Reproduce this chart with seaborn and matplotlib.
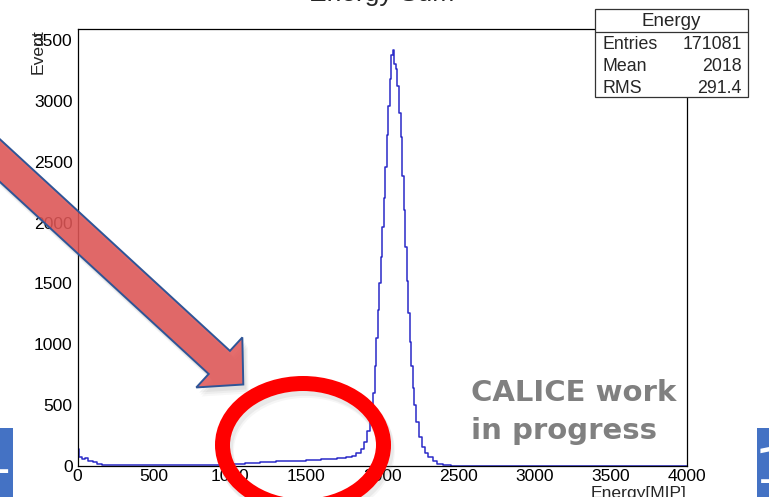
import numpy as np
import pandas as pd
import matplotlib
matplotlib.use("Agg")
import matplotlib.pyplot as plt
import seaborn as sns
from matplotlib.patches import Polygon, Ellipse, Rectangle
from matplotlib.transforms import Affine2D

# Energy-sum histogram: bin edges [MIP] and event counts per bin
bin_edges = [0, 10, 30, 50, 70, 100, 130, 160, 200, 300, 500, 700, 900, 1000,
             1100, 1200, 1300, 1400, 1500, 1600, 1700, 1760, 1800, 1830, 1860,
             1880, 1900, 1920, 1940, 1950, 1960, 1970, 1980, 1990, 2000, 2010,
             2020, 2030, 2040, 2050, 2060, 2070, 2080, 2090, 2100, 2110, 2120,
             2130, 2140, 2150, 2160, 2170, 2180, 2190, 2200, 2210, 2220, 2240,
             2260, 2280, 2300, 2330, 2360, 2400, 2450, 2550, 4000]
bin_counts = [140, 70, 60, 65, 45, 30, 15, 10, 6, 5, 6, 8, 12,
              20, 25, 32, 38, 45, 52, 60, 68, 75, 85, 110, 140, 200, 290, 430,
              600, 820, 1050, 1280, 1500, 1720, 1960, 2200, 2460, 2720, 2960,
              3180, 3380, 3420, 3300, 3260, 3120, 2900, 2700, 2380, 2100, 1800,
              1520, 1260, 1020, 820, 640, 500,
              360, 240, 160, 110, 70, 40, 20, 8, 2, 0]

hist_name = "Energy"
stat_names = ["Entries", "Mean", "RMS"]
stat_values = ["171081", "2018", "291.4"]
x_ticks = [0, 500, 1000, 1500, 2000, 2500, 3000, 3500, 4000]
y_ticks = [0, 500, 1000, 1500, 2000, 2500, 3000, 3500]

W, H = 769, 497
sns.set_theme(style="white")
plt.rcParams["font.family"] = ["Liberation Sans", "DejaVu Sans"]

fig = plt.figure(figsize=(W / 100, H / 100), dpi=100)
fig.patch.set_facecolor("white")
# pixel coordinates, origin at top-left
px = Affine2D().scale(1 / W, -1 / H).translate(0, 1) + fig.transFigure

ax = fig.add_axes([77.5 / W, 1 - 466 / H, (687 - 77.5) / W, (466 - 28.5) / H])
ax.set_facecolor("white")

centers = [(a + b) / 2 for a, b in zip(bin_edges[:-1], bin_edges[1:])]
df = pd.DataFrame({"energy": centers, "events": bin_counts})
sns.histplot(data=df, x="energy", weights="events", bins=bin_edges,
             element="step", fill=False, color="#2a2ac8", linewidth=1.1, ax=ax)

ax.set_xlim(0, 4000)
ax.set_ylim(0, 3595)
ax.set_xlabel("")
ax.set_ylabel("")
ax.set_xticks(x_ticks)
ax.set_yticks(y_ticks)
ax.set_xticks(np.arange(0, 4001, 100), minor=True)
ax.set_yticks(np.arange(0, 3501, 100), minor=True)
ax.tick_params(axis="both", which="both", direction="in", color="black",
               width=0.8, top=False, right=False, labelsize=12.6,
               labelcolor="black")
ax.tick_params(axis="y", which="major", length=13, pad=3.6)
ax.tick_params(axis="y", which="minor", length=6.5)
ax.tick_params(axis="x", which="major", length=9.4, pad=2.2)
ax.tick_params(axis="x", which="minor", length=4.7)
for s in ax.spines.values():
    s.set_color("black")
    s.set_linewidth(0.9)

# titles
fig.text(382, 1, "Energy Sum", transform=px, ha="center", va="baseline",
         fontsize=19)
fig.text(43, 29, "Event", transform=px, rotation=90, rotation_mode="anchor",
         ha="right", va="baseline", fontsize=12.6)
fig.text(686, 498, "Energy[MIP]", transform=px, ha="right", va="baseline",
         fontsize=12.6)

# statistics box
fig.add_artist(Rectangle((595, 9), 153, 88, transform=px, facecolor="white",
                         edgecolor="#333333", linewidth=0.9, zorder=4))
fig.add_artist(plt.Line2D([595, 748], [32, 32], transform=px,
                          color="#333333", linewidth=0.9, zorder=5))
fig.text(671, 26, hist_name, transform=px, ha="center", va="baseline",
         fontsize=13.5, zorder=6)
for i, (n, v) in enumerate(zip(stat_names, stat_values)):
    yb = 49 + i * 21.8
    fig.text(602.5, yb, n, transform=px, ha="left", va="baseline",
             fontsize=12.8, zorder=6)
    fig.text(742, yb, v, transform=px, ha="right", va="baseline",
             fontsize=12.8, zorder=6)

# block arrow pointing at the low-energy tail
tip = np.array([243.3, 384.5])
u = np.array([np.cos(np.arctan(0.92)), np.sin(np.arctan(0.92))])
nrm = np.array([-u[1], u[0]])
base = tip - 32.6 * u
start = tip - 420 * u
w, hw = 15.7, 34.0
pts = np.array([start - w * nrm, base - w * nrm, base - hw * nrm, tip,
                base + hw * nrm, base + w * nrm, start + w * nrm])
for k, a in [(9, 0.06), (7, 0.08), (5, 0.10)]:
    fig.add_artist(Polygon(pts + np.array([k * 0.6, k]), closed=True,
                           transform=px, facecolor="#7f7f7f", alpha=a,
                           edgecolor="none", zorder=6))
fig.add_artist(Polygon(pts, closed=True, transform=px,
                       facecolor=(0.88, 0.33, 0.33, 0.86),
                       edgecolor="#2f5597", linewidth=1.4, zorder=7))

# red ring around the tail region, with a soft grey shadow
for k, a in [(6, 0.07), (4, 0.10)]:
    fig.add_artist(Ellipse((303 + k * 0.5, 445 + k), 161, 123, transform=px,
                           facecolor="none", edgecolor="#808080", alpha=a,
                           linewidth=12, zorder=7.5))
fig.add_artist(Ellipse((303, 445), 161, 123, transform=px, facecolor="none",
                       edgecolor="#ff0000", linewidth=10.8, zorder=8))

# overlay note
for txt, yb in [("CALICE work", 401), ("in progress", 439)]:
    fig.text(471, yb, txt, transform=px, ha="left", va="baseline",
             fontsize=21, fontweight="bold", color="#808080",
             family="DejaVu Sans", zorder=9)

# slide page tabs at the edges
fig.add_artist(Rectangle((0, 428), 13.3, 70, transform=px,
                         facecolor="#4472c4", edgecolor="none", zorder=9))
fig.add_artist(Rectangle((757.3, 428), 12, 70, transform=px,
                         facecolor="#4472c4", edgecolor="none", zorder=9))
t1 = fig.text(-19, 473, "1", transform=px, ha="left", va="baseline",
              fontsize=36, color="white", family="DejaVu Sans", zorder=10)
t1.set_clip_path(Rectangle((0, 428), 13.3, 70, transform=px))
fig.text(754.5, 483, "1", transform=px, ha="left", va="baseline",
         fontsize=36, color="white", family="DejaVu Sans", zorder=10)

fig.savefig("out.png", dpi=100, facecolor="white")
